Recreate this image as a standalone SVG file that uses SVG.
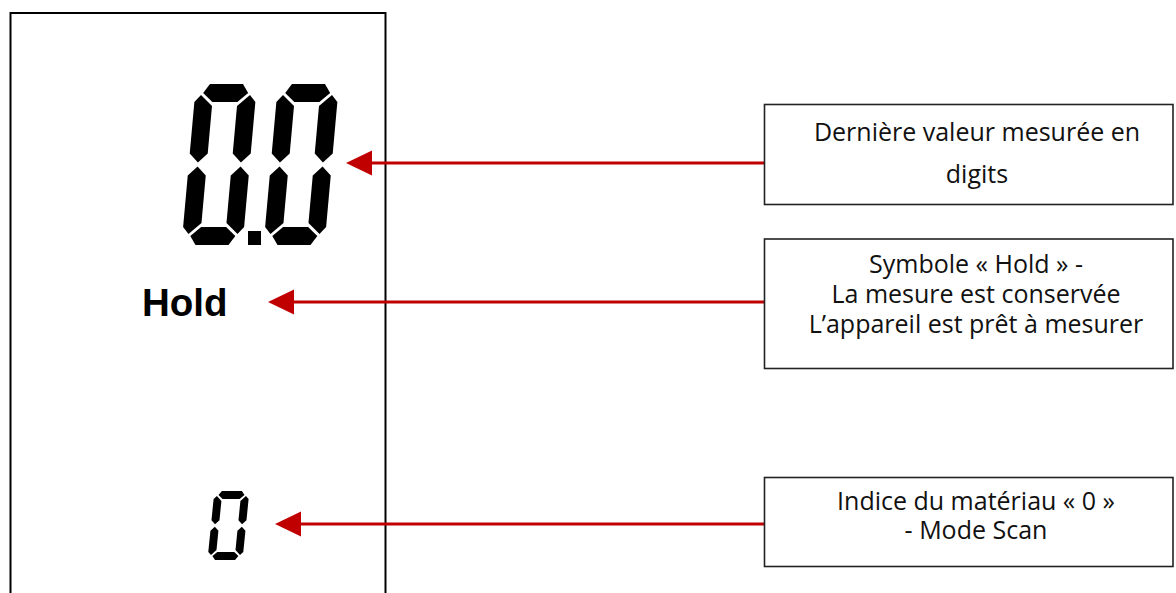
<svg xmlns="http://www.w3.org/2000/svg" width="1176" height="593" viewBox="0 0 1176 593">
  <style>
    .panel { fill: none; stroke: #000; stroke-width: 2; }
    .box { fill: #fff; stroke: #222; stroke-width: 1.6; }
    .lbl { font-family: "Open Sans", "Noto Sans", sans-serif; font-size: 25px; fill: #111; text-anchor: middle; }
    .seg { fill: #000; }
    .conn { stroke: #C00000; stroke-width: 3; fill: none; marker-end: url(#ah); }
    .hold { font-family: "Liberation Sans", Arial, sans-serif; font-weight: bold; font-size: 38.5px; fill: #000; }
  </style>
  <defs>
    <marker id="ah" viewBox="0 -13 27 26" refX="0" refY="0" markerWidth="27" markerHeight="26" markerUnits="userSpaceOnUse" orient="auto">
      <path d="M0,-12.5 L26,0 L0,12.5 Z" fill="#C00000"/>
    </marker>
    <g id="bigzero" class="seg">
      <polygon points="8,-152 14,-161 47,-161 53,-152 43,-143 18,-143"/>
      <polygon points="8,-9 14,0 47,0 53,-9 43,-18 18,-18"/>
      <polygon points="6,-150 18,-139 18,-91.5 9,-82.5 0,-91.5 0,-143"/>
      <polygon points="6,-11 18,-22 18,-69.5 9,-78.5 0,-69.5 0,-18"/>
      <polygon points="55,-150 61,-143 61,-91.5 52,-82.5 43,-91.5 43,-139"/>
      <polygon points="55,-11 61,-18 61,-69.5 52,-78.5 43,-69.5 43,-22"/>
    </g>
  </defs>

  <g id="lcd-panel">
    <path class="panel" d="M10.5,600 V13 H385.5 V600"/>
  </g>

  <g id="value-display">
    <use href="#bigzero" transform="translate(181.5,245) skewX(-5.14)"/>
    <rect class="seg" x="248" y="231" width="13" height="14"/>
    <use href="#bigzero" transform="translate(263.5,245) skewX(-5.14)"/>
  </g>

  <g id="hold-symbol">
    <text class="hold" x="142" y="316">Hold</text>
  </g>

  <g id="material-index">
    <g class="seg" transform="translate(207.5,560) skewX(-5.71)">
      <polygon points="4.5,-65 7.5,-69 27.5,-69 30.5,-65 26,-61 9,-61"/>
      <polygon points="4.5,-4 7.5,0 27.5,0 30.5,-4 26,-8 9,-8"/>
      <polygon points="3,-64 8,-59 8,-39.7 4,-35.7 0,-39.7 0,-61"/>
      <polygon points="3,-5 8,-10 8,-29.3 4,-33.3 0,-29.3 0,-8"/>
      <polygon points="32,-64 35,-61 35,-39.7 31,-35.7 27,-39.7 27,-59"/>
      <polygon points="32,-5 35,-8 35,-29.3 31,-33.3 27,-29.3 27,-10"/>
    </g>
  </g>

  <g id="connectors">
    <line class="conn" x1="764" y1="163" x2="372" y2="163"/>
    <line class="conn" x1="764" y1="302" x2="294" y2="302"/>
    <line class="conn" x1="764" y1="524" x2="301" y2="524"/>
  </g>

  <g id="box-value">
    <rect class="box" x="764.5" y="104.5" width="408.5" height="100"/>
    <text class="lbl" x="977" y="141">Dernière valeur mesurée en</text>
    <text class="lbl" x="977" y="183">digits</text>
  </g>

  <g id="box-hold">
    <rect class="box" x="764.5" y="239" width="408.5" height="129.5"/>
    <text class="lbl" x="976" y="273">Symbole « Hold » -</text>
    <text class="lbl" x="976" y="303">La mesure est conservée</text>
    <text class="lbl" x="976" y="333">L’appareil est prêt à mesurer</text>
  </g>

  <g id="box-index">
    <rect class="box" x="764.5" y="477.5" width="408.5" height="89"/>
    <text class="lbl" x="976" y="510">Indice du matériau « 0 »</text>
    <text class="lbl" x="976" y="539">- Mode Scan</text>
  </g>
</svg>
